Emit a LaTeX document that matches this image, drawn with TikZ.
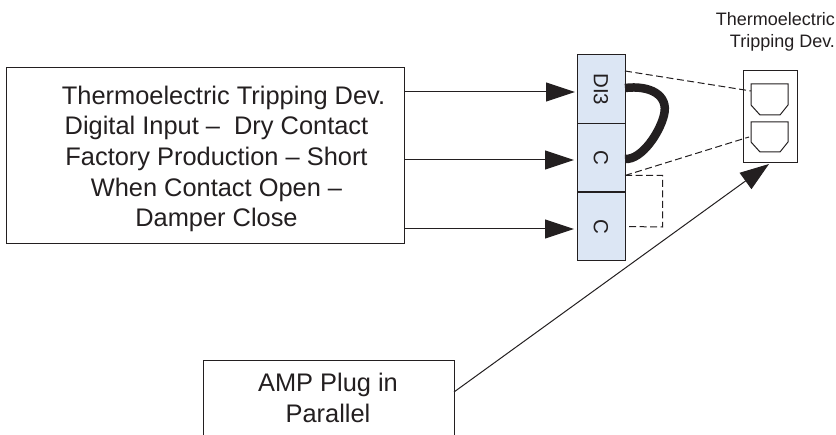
\documentclass[tikz,border=0pt]{standalone}
\usepackage{fontspec}
\setmainfont{Liberation Sans}
\usetikzlibrary{arrows.meta,calc}
\definecolor{ink}{HTML}{231F20}
\definecolor{termblue}{HTML}{DCE6F4}
\tikzset{
  x=1pt,y=-1pt,
  every node/.style={inner sep=0pt,outer sep=0pt,text=ink},
  box/.style={draw=ink,line width=1pt,fill=white,rectangle},
  term/.style={draw=ink,line width=1pt,fill=termblue,rectangle,minimum width=48pt,minimum height=68.7pt},
  termtext/.style={font=\fontsize{20.5}{24}\selectfont,rotate=-90},
  bigtext/.style={font=\fontsize{25.4}{30.7}\selectfont,align=center},
  smalltext/.style={font=\fontsize{18}{22.7}\selectfont,align=right},
  arrowline/.style={draw=ink,line width=1pt,-{Triangle[length=29pt,width=19pt]}},
  thinarrow/.style={draw=ink,line width=1pt,-{Triangle[length=29pt,width=20pt]}},
  dashline/.style={draw=ink,line width=1pt,dash pattern=on 7pt off 3.5pt},
  plug/.style={draw=ink,line width=1pt,line join=miter},
}
\begin{document}
\begin{tikzpicture}
\useasboundingbox (0,0) rectangle (836,435);
\clip (0,0) rectangle (836,435);
\fill[white] (0,0) rectangle (836,435);
% boxes
\node[box,minimum width=398pt,minimum height=176pt] (left) at (205,156) {};
\node[bigtext] (lefttext) at (216.5,159) {\hspace*{14pt}Thermoelectric Tripping Dev.\\Digital Input --\ \ Dry Contact\\Factory Production -- Short\\When Contact Open --\\Damper Close};
\node[box,minimum width=251pt,minimum height=120pt] (amp) at (328.5,421) {};
\node[bigtext] (amptext) at (328,398) {AMP Plug in\\Parallel};
% terminal strip
\node[term] (di) at (601,89.3) {};
\node[term] (ca) at (601,157.5) {};
\node[term] (cb) at (601,226.5) {};
\node[termtext] at (di) {DI3};
\node[termtext] at (ca) {C};
\node[termtext] at (cb) {C};
% device
\node[box,minimum width=54pt,minimum height=92pt] (dev) at (770,117) {};
\node[smalltext,anchor=east] (devtext) at (835,32) {Thermoelectric\\Tripping Dev.};
\coordinate (pa) at (751,84);
\coordinate (pb) at (751,122);
\draw[plug] (pa) -- ++(37,0) -- ++(0,21) -- ++(-8,10) -- ++(-20,0) -- ++(-9,-10) -- cycle;
\draw[plug] (pb) -- ++(37,0) -- ++(0,20) -- ++(-8,10) -- ++(-20,0) -- ++(-9,-10) -- cycle;
% arrows
\coordinate (ta) at ($(di.west)+(0,2.7)$);
\coordinate (tb) at ($(ca.west)+(0,2.5)$);
\coordinate (tc) at ($(cb.west)+(0,2.5)$);
\draw[arrowline,shorten >=2pt] (left.east |- ta) -- (ta);
\draw[arrowline,shorten >=3pt] (left.east |- tb) -- (tb);
\draw[arrowline,shorten >=3pt] (left.east |- tc) -- (tc);
\coordinate (ampout) at (amp.north east |- 0,392);
\coordinate (devin) at (769,164);
\draw[thinarrow] (ampout) -- (devin);
% jumper
\coordinate (ja) at (625,88);
\coordinate (jb) at (625,159);
\draw[draw=ink,line width=8.5pt] (ja) .. controls (650,85) and (669,95) .. (664,115) .. controls (660,132) and (642,160) .. (jb);
% dashed
\coordinate (da) at (625,71);
\coordinate (db) at (751,91);
\coordinate (dc) at (625,175.5);
\coordinate (dd) at (749,137);
\coordinate (de) at (662.5,175.5);
\coordinate (df) at (662.5,227);
\draw[dashline] (da) -- (db);
\draw[dashline] (dc) -- (dd);
\draw[dashline] (dc) -- (de) -- (df) -- (cb.east);
\end{tikzpicture}
\end{document}
